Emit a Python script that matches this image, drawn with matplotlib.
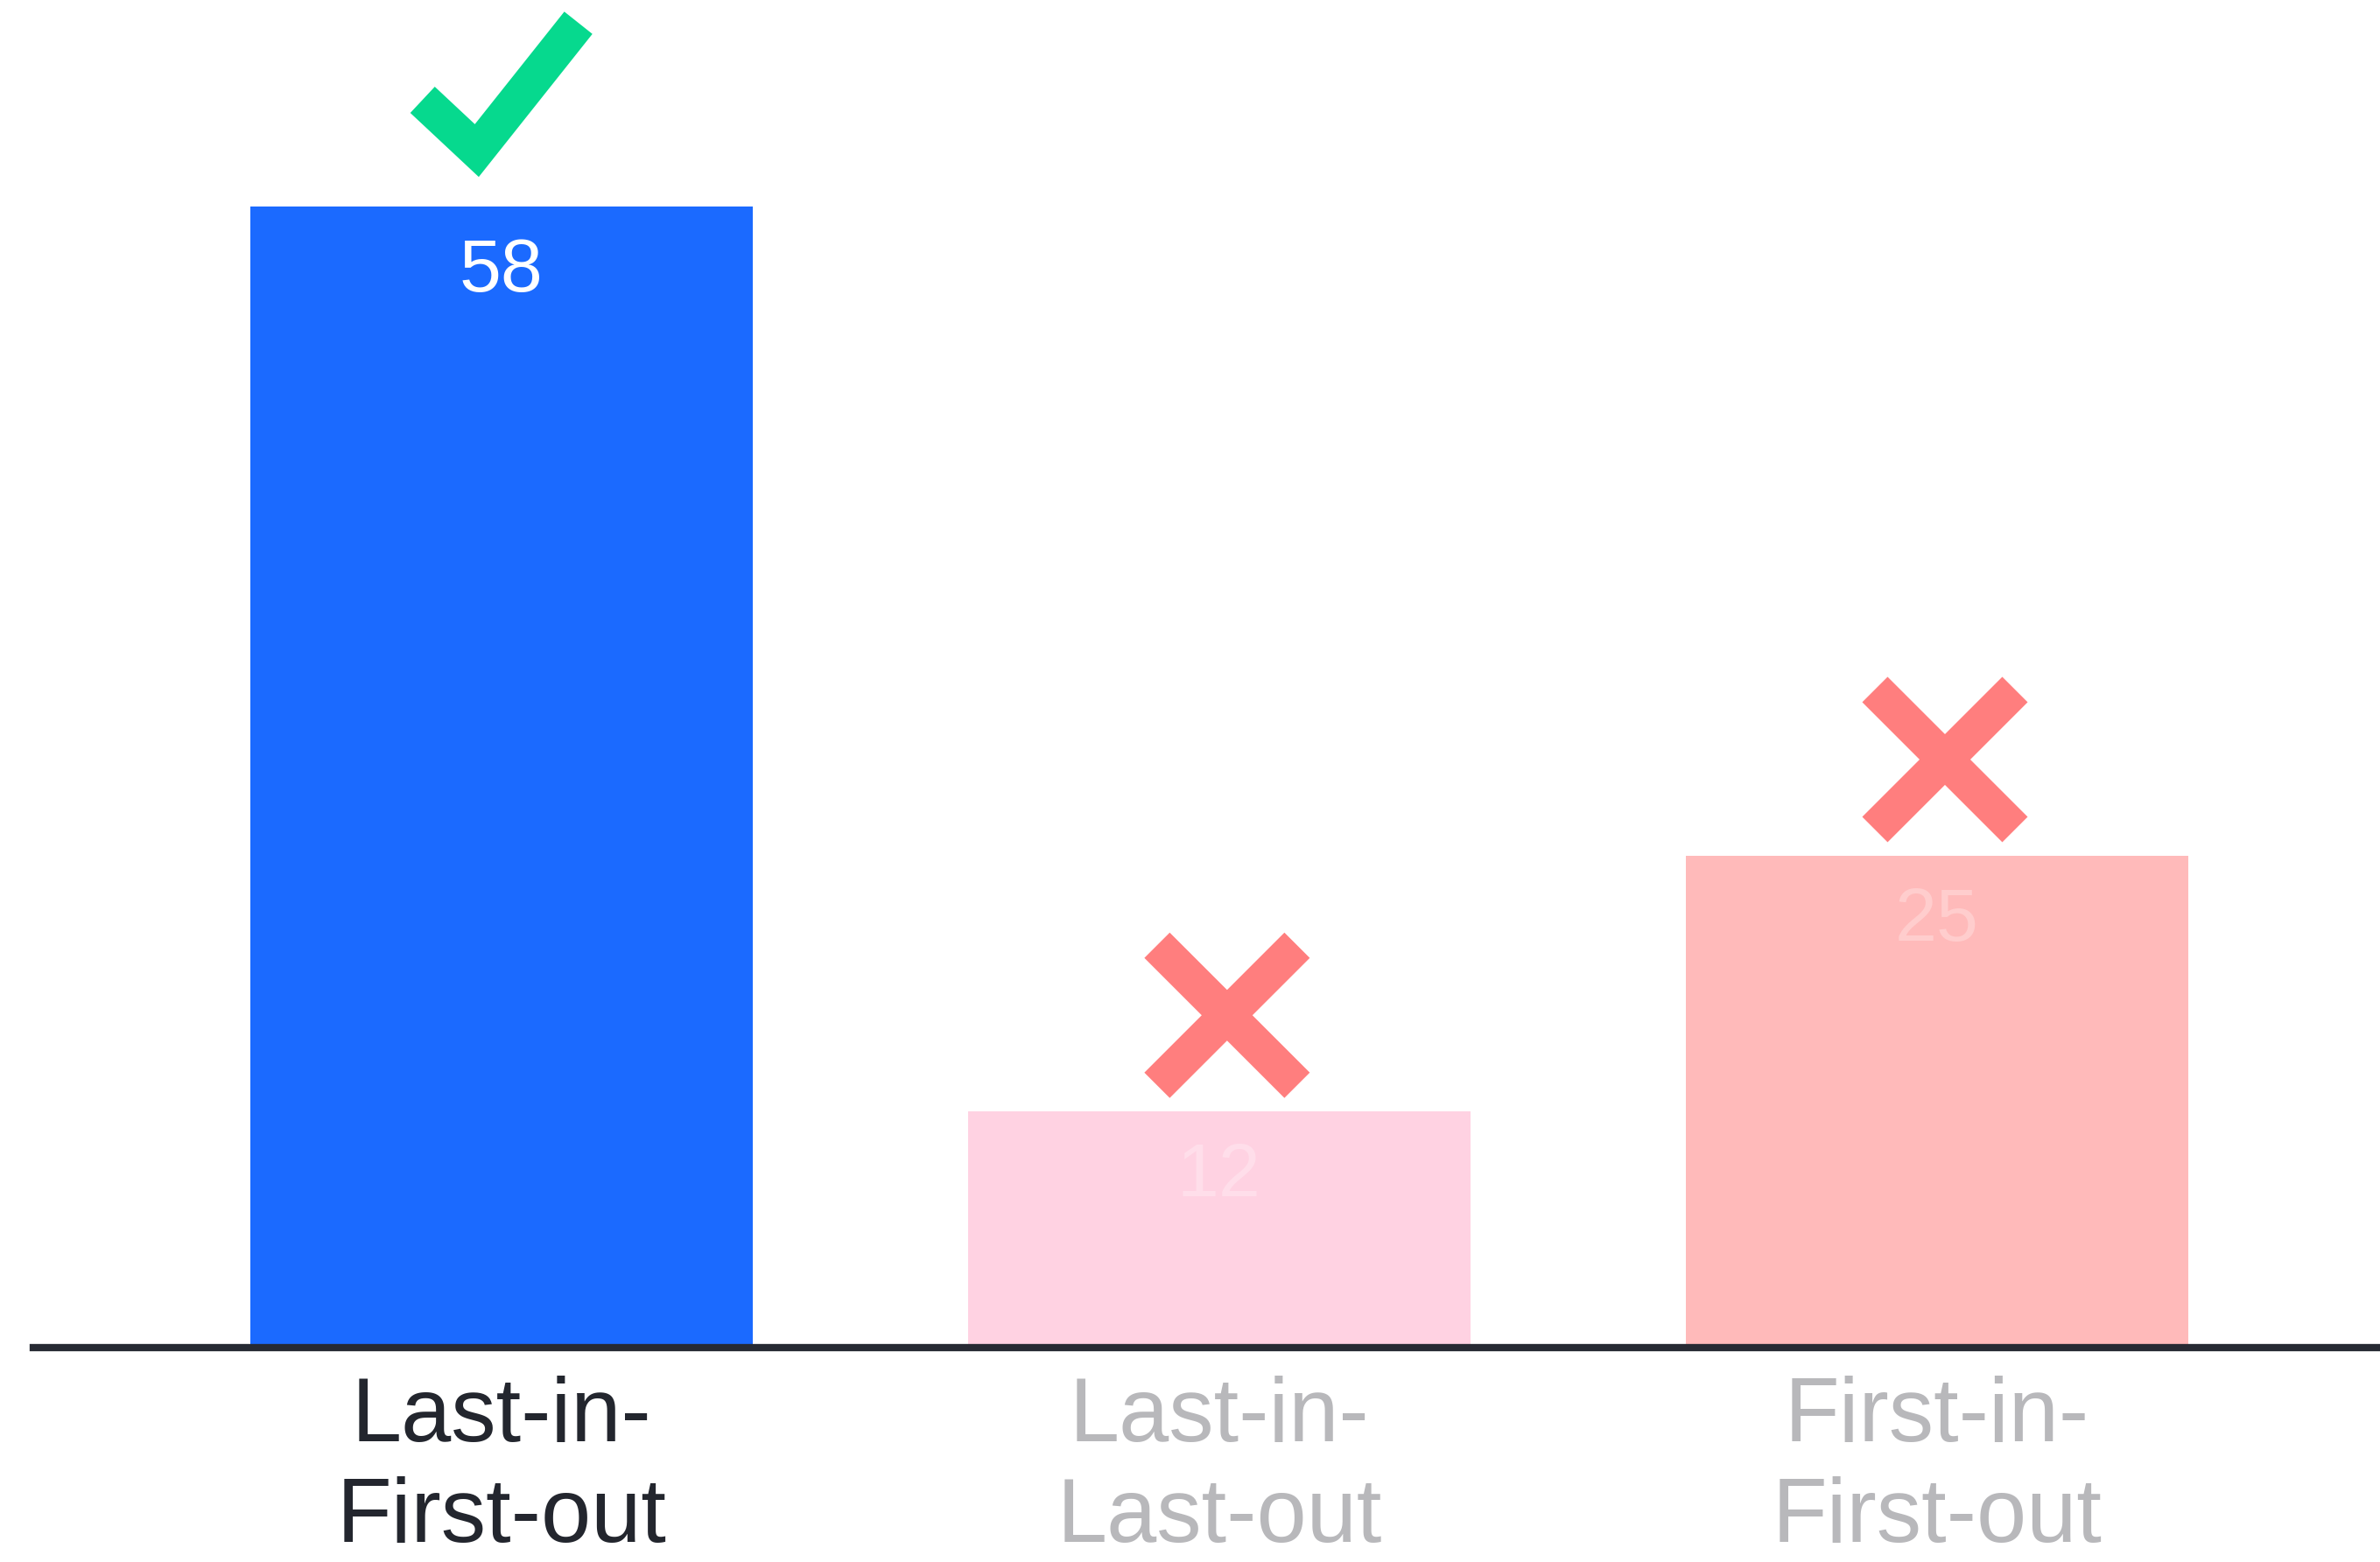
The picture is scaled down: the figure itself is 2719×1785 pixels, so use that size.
import matplotlib.pyplot as plt
from matplotlib.transforms import IdentityTransform

categories = ['Last-in-\nFirst-out', 'Last-in-\nLast-out', 'First-in-\nFirst-out']
values = [58, 12, 25]
correct = [True, False, False]

bar_colors = ['#1B6AFF', '#FFD2E2', '#FFBABA']
label_colors = ['#23262E', '#B8B8BB', '#B8B8BB']
value_alpha = [1.0, 0.28, 0.28]

W, H = 2719, 1785
fig = plt.figure(figsize=(W / 100, H / 100), dpi=100)
fig.patch.set_facecolor('white')
ax = fig.add_axes([38 / W, 1 - 1540 / H, 1 - 38 / W, 1540 / H])

x = list(range(len(values)))
ax.bar(x, values, width=0.7, color=bar_colors, zorder=1)
ax.set_xlim(-0.652, 2.617)
ax.set_ylim(0, 68.5)
ax.set_autoscale_on(False)

for s in ['left', 'right', 'top']:
    ax.spines[s].set_visible(False)
ax.spines['bottom'].set_linewidth(6)
ax.spines['bottom'].set_color('#262A33')
ax.spines['bottom'].set_zorder(3)

ax.set_yticks([])
ax.set_xticks(x, categories)
ax.tick_params(axis='x', length=0, pad=23)
for lbl, c in zip(ax.get_xticklabels(), label_colors):
    lbl.set_color(c)
    lbl.set_fontsize(74)
    lbl.set_linespacing(1.24)
    lbl.set_fontfamily(['Liberation Sans', 'DejaVu Sans'])

# value labels inside bars
for xi, v, a in zip(x, values, value_alpha):
    ax.annotate(str(v), (xi, v), xytext=(0, -70), textcoords='offset points',
                ha='center', va='baseline', color='white', alpha=a,
                fontsize=62, family=['Liberation Sans', 'DejaVu Sans'], zorder=4)

# check / cross marks above bars (drawn in pixels, anchored to bar top)
for xi, v, ok in zip(x, values, correct):
    px, py = ax.transData.transform((xi, v))
    if ok:
        ax.plot([px - 90, px - 28, px + 88], [py + 122, py + 64, py + 210],
                transform=IdentityTransform(), color='#06D98E', lw=29.5,
                solid_joinstyle='miter', solid_capstyle='butt', clip_on=False)
    else:
        cx, cy, r = px + 9, py + 110, 80
        for sgn in (1, -1):
            ax.plot([cx - r, cx + r], [cy + sgn * r, cy - sgn * r],
                    transform=IdentityTransform(), color='#FF7E7E', lw=29.5,
                    solid_capstyle='butt', clip_on=False)

fig.savefig('out.png', dpi=100)
